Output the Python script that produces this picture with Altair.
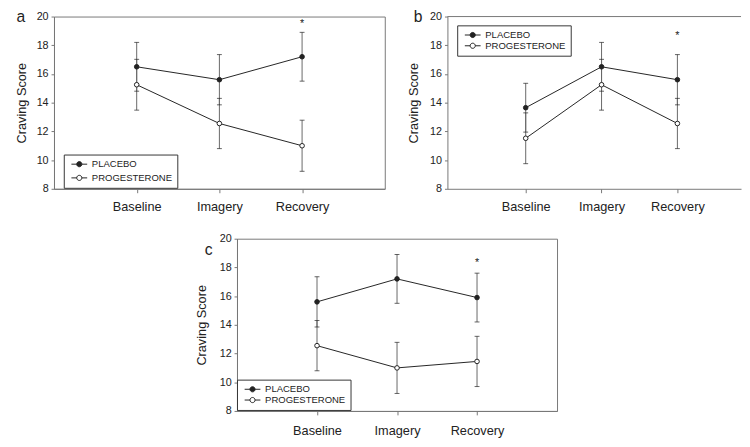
import altair as alt
import pandas as pd

categories = ["Baseline", "Imagery", "Recovery"]
groups = ["PLACEBO", "PROGESTERONE"]
panel_names = ["a", "b", "c"]
y_ticks = [8, 10, 12, 14, 16, 18, 20]

placebo_a = [16.5, 15.6, 17.2]
placebo_err_a = [1.7, 1.75, 1.7]
progest_a = [15.25, 12.55, 11.0]
progest_err_a = [1.77, 1.75, 1.78]

placebo_b = [13.65, 16.5, 15.6]
placebo_err_b = [1.7, 1.7, 1.75]
progest_b = [11.52, 15.25, 12.55]
progest_err_b = [1.77, 1.77, 1.75]

placebo_c = [15.6, 17.2, 15.9]
placebo_err_c = [1.75, 1.7, 1.7]
progest_c = [12.55, 11.0, 11.45]
progest_err_c = [1.75, 1.78, 1.75]

star_y = [19.65, 18.85, 18.5]

FONT = "Liberation Sans"
AX = "#777777"
INK = "#222222"
ERR = "#666666"
SYMBOL = "M-2.3,0H-0.75M0.75,0H2.3M-0.75,0A0.75,0.75,0,1,1,0.75,0A0.75,0.75,0,1,1,-0.75,0Z"


def make_panel(idx, placebo, perr, prog, prerr, width, height, xscale,
               legend_xy, letter_xy, title_x, row_pad, label_pad, boxed=True):
    rows = []
    for g, vals, errs in [(groups[0], placebo, perr), (groups[1], prog, prerr)]:
        for c, v, e in zip(categories, vals, errs):
            rows.append({"group": g, "cat": c, "value": v, "lo": v - e, "hi": v + e})
    df = pd.DataFrame(rows)

    x = alt.X("cat:N", sort=categories, scale=xscale,
              axis=alt.Axis(title=None, labelAngle=0, labelFontSize=13, labelColor=INK,
                            labelPadding=label_pad, tickSize=4, tickColor=AX, domainColor=AX,
                            grid=False))
    yscale = alt.Scale(domain=[8, 20], nice=False, zero=False)
    yaxis = alt.Axis(values=y_ticks, title="Craving Score", titleFontSize=13,
                     titleFontWeight="normal", titleColor=INK, titleAngle=-90,
                     titleX=title_x, titleY=height / 2, titleAlign="center",
                     titleBaseline="middle", labelFontSize=11, labelColor=INK,
                     labelPadding=3, tickSize=3, tickColor=AX, domainColor=AX, grid=False)

    def Y(field):
        return alt.Y(f"{field}:Q", scale=yscale, axis=yaxis)

    base = alt.Chart(df)
    bars = base.mark_rule(color=ERR, strokeWidth=1).encode(x=x, y=Y("lo"), y2="hi:Q")
    cap_lo = base.mark_tick(color=INK, size=5, thickness=1).encode(x=x, y=Y("lo"))
    cap_hi = base.mark_tick(color=INK, size=5, thickness=1).encode(x=x, y=Y("hi"))
    line = base.mark_line(color=INK, strokeWidth=1).encode(x=x, y=Y("value"), detail="group:N")
    legend = alt.Legend(title=None, orient="none", legendX=legend_xy[0], legendY=legend_xy[1],
                        direction="vertical", symbolType=SYMBOL, symbolSize=49,
                        symbolStrokeColor=INK, symbolStrokeWidth=1, labelFontSize=9.7,
                        labelColor=INK, labelFont=FONT, strokeColor="#333333",
                        fillColor="white", padding=5, rowPadding=row_pad, labelOffset=8,
                        symbolOffset=6)
    pts = base.mark_point(filled=True, size=22, stroke=INK, strokeWidth=1, opacity=1).encode(
        x=x, y=Y("value"),
        fill=alt.Fill("group:N", scale=alt.Scale(domain=groups, range=[INK, "white"]),
                      legend=legend))
    star = alt.Chart(pd.DataFrame({"cat": [categories[2]], "value": [star_y[idx]]})).mark_text(
        text="*", fontSize=11, color=INK, baseline="alphabetic", dy=6).encode(x=x, y=Y("value"))
    letter = alt.Chart(pd.DataFrame({"t": [panel_names[idx]]})).mark_text(
        fontSize=16, color=INK, align="center", baseline="middle").encode(
        x=alt.value(letter_xy[0]), y=alt.value(letter_xy[1]), text="t:N")
    layers = [bars, cap_lo, cap_hi, line, pts, star, letter]
    if not boxed:
        top_rule = alt.Chart(pd.DataFrame({"k": [0]})).mark_rule(color=AX, strokeWidth=1).encode(
            x=alt.value(0), x2=alt.value(width), y=alt.value(0))
        layers.append(top_rule)
    ch = alt.layer(*layers).properties(width=width, height=height)
    if not boxed:
        ch = ch.properties(view=alt.ViewBackground(stroke=None))
    return ch


pa = make_panel(0, placebo_a, placebo_err_a, progest_a, progest_err_a, 338, 176,
                alt.Scale(type="point", padding=1), (10, 141), (-34, 1), -33, 3, 8)
pb = make_panel(1, placebo_b, placebo_err_b, progest_b, progest_err_b, 300, 176,
                alt.Scale(type="point", padding=0.9355, align=0.5517), (10, 9), (-30, 1), -35, 0, 8,
                boxed=False)
pc = make_panel(2, placebo_c, placebo_err_c, progest_c, progest_err_c, 327, 176,
                alt.Scale(type="point", padding=1), (0, 144), (-29, 12), -36, 0, 10)

spacer = alt.Chart(pd.DataFrame({"k": [0]})).mark_point(opacity=0, size=1).encode(
    x=alt.value(0), y=alt.value(0)).properties(width=131, height=10,
                                               view=alt.ViewBackground(stroke=None))

top = alt.hconcat(pa, pb, spacing=22).resolve_scale(fill="independent")
bottom = alt.hconcat(spacer, pc, spacing=13).resolve_scale(fill="independent")
chart = alt.vconcat(top, bottom, spacing=18).resolve_scale(
    fill="independent").properties(
    padding={"left": 7, "top": -4, "right": 0, "bottom": 0}).configure(
    font=FONT).configure_view(stroke=AX, strokeWidth=1)

chart.save("out.html", embed_options={"renderer": "svg", "actions": False})
